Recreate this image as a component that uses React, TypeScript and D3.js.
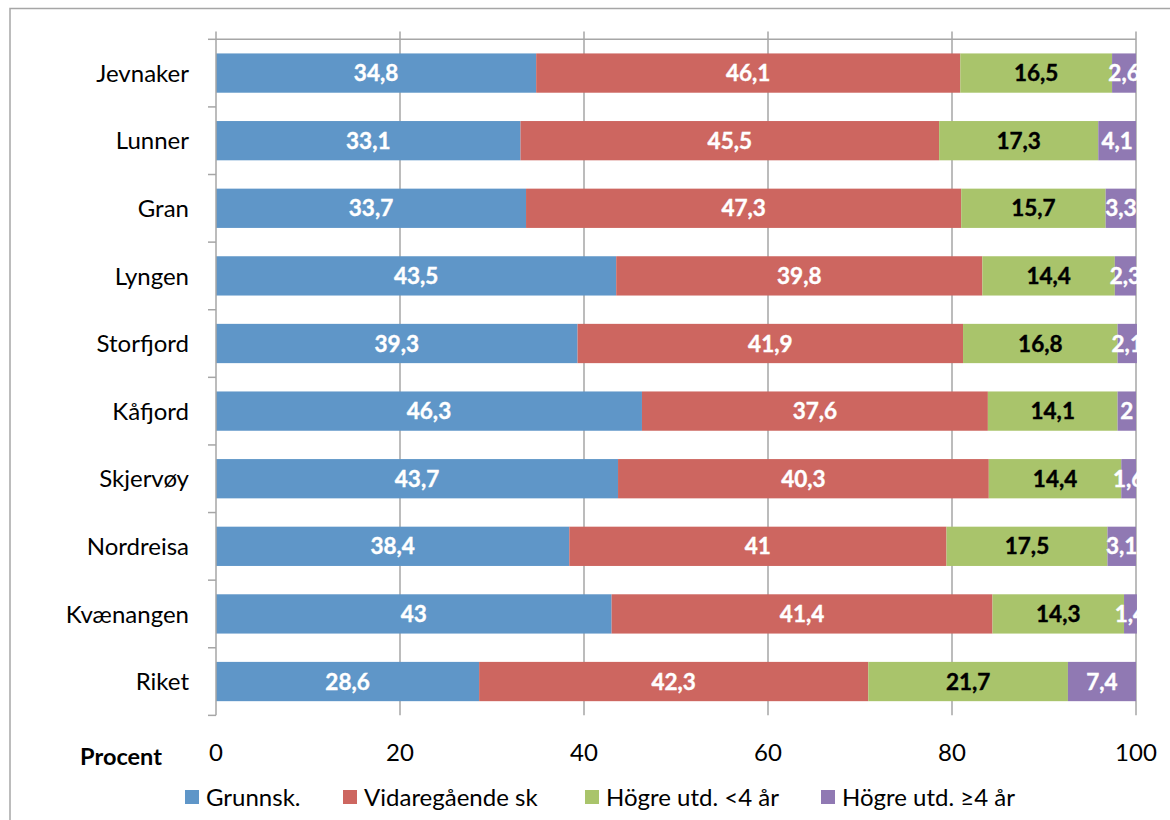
import React from "react";
import * as d3 from "d3";

const categories = ["Jevnaker", "Lunner", "Gran", "Lyngen", "Storfjord", "Kåfjord", "Skjervøy", "Nordreisa", "Kvænangen", "Riket"];
const grunnsk = [34.8, 33.1, 33.7, 43.5, 39.3, 46.3, 43.7, 38.4, 43, 28.6];
const vidaregaende = [46.1, 45.5, 47.3, 39.8, 41.9, 37.6, 40.3, 41, 41.4, 42.3];
const hogreKort = [16.5, 17.3, 15.7, 14.4, 16.8, 14.1, 14.4, 17.5, 14.3, 21.7];
const hogreLang = [2.6, 4.1, 3.3, 2.3, 2.1, 2, 1.6, 3.1, 1.4, 7.4];
const seriesNames = ["Grunnsk.", "Vidaregående sk", "Högre utd. <4 år", "Högre utd. ≥4 år"];
const xTicks = [0, 20, 40, 60, 80, 100];

const seriesValues = [grunnsk, vidaregaende, hogreKort, hogreLang];
const colors = ["#5F96C8", "#CD6660", "#A9C46B", "#9079B3"];
const labelColors = ["#ffffff", "#ffffff", "#000000", "#ffffff"];
const FONT = "Lato, 'Open Sans', sans-serif";

export default function App() {
  const W = 1170, H = 820;
  const left = 216, right = 1136, top = 39.3, bottom = 715.3;
  const x = d3.scaleLinear().domain([0, 100]).range([left, right]);
  const y = d3.scaleBand<string>().domain(categories).range([top, bottom]).paddingInner(0.419).paddingOuter(0.209);
  const step = y.step();

  const rows = categories.map((c, i) => {
    let acc = 0;
    return seriesValues.map((s, k) => {
      const x0 = acc;
      acc += s[i];
      return { k, v: s[i], x0, x1: acc };
    });
  });

  const legendX = [185, 343, 585, 821];
  const fmt = (v: number) => String(v).replace(".", ",");

  return (
    <svg width={W} height={H} style={{ position: "absolute", left: 0, top: 0, background: "#fff" }} fontFamily={FONT}>
      <defs>
        <clipPath id="plotClip">
          <rect x={left} y={0} width={right - left + 1.5} height={H} />
        </clipPath>
      </defs>
      <rect x={10} y={8.5} width={W + 20} height={H + 20} fill="#fff" stroke="#a6a6a6" strokeWidth={1.5} />
      {/* gridlines */}
      {xTicks.slice(1).map((t) => (
        <line key={t} x1={x(t)} x2={x(t)} y1={31.5} y2={bottom} stroke="#a6a6a6" strokeWidth={1.5} />
      ))}
      <line x1={left} x2={right} y1={top} y2={top} stroke="#a6a6a6" strokeWidth={1.5} />
      {/* bars */}
      <g clipPath="url(#plotClip)">
        {categories.map((c, i) =>
          rows[i].map((seg) => (
            <rect key={c + seg.k} x={x(seg.x0)} y={y(c)} width={x(seg.x1) - x(seg.x0)} height={y.bandwidth()} fill={colors[seg.k]} />
          ))
        )}
        {categories.map((c, i) =>
          rows[i].map((seg) => (
            <text
              key={"t" + c + seg.k}
              x={(x(seg.x0) + x(seg.x1)) / 2}
              y={(y(c) as number) + y.bandwidth() / 2}
              dy="0.36em"
              textAnchor="middle"
              fontWeight="bold"
              fontSize={22.5}
              fill={labelColors[seg.k]}
              stroke={labelColors[seg.k]}
              strokeWidth={0.4}
            >
              {fmt(seg.v)}
            </text>
          ))
        )}
      </g>
      {/* vertical axis */}
      <line x1={left} x2={left} y1={31.5} y2={bottom} stroke="#a6a6a6" strokeWidth={1.5} />
      {d3.range(categories.length + 1).map((j) => (
        <line key={j} x1={208} x2={left} y1={top + j * step} y2={top + j * step} stroke="#a6a6a6" strokeWidth={1.5} />
      ))}
      {categories.map((c) => (
        <text key={c} x={189} y={(y(c) as number) + y.bandwidth() / 2} dy="0.36em" textAnchor="end" fontSize={24} fill="#000">
          {c}
        </text>
      ))}
      {/* x tick labels */}
      {xTicks.map((t) => (
        <text key={t} x={x(t)} y={752} dy="0.36em" textAnchor="middle" fontSize={24} fill="#000">
          {t}
        </text>
      ))}
      <text x={121} y={757} dy="0.36em" textAnchor="middle" fontSize={23.5} fontWeight="bold" fill="#000">
        Procent
      </text>
      {/* legend */}
      {seriesNames.map((n, k) => (
        <g key={n}>
          <rect x={legendX[k]} y={790} width={14} height={14} fill={colors[k]} />
          <text x={legendX[k] + 21} y={797} dy="0.36em" fontSize={24} fill="#000">
            {n}
          </text>
        </g>
      ))}
    </svg>
  );
}
